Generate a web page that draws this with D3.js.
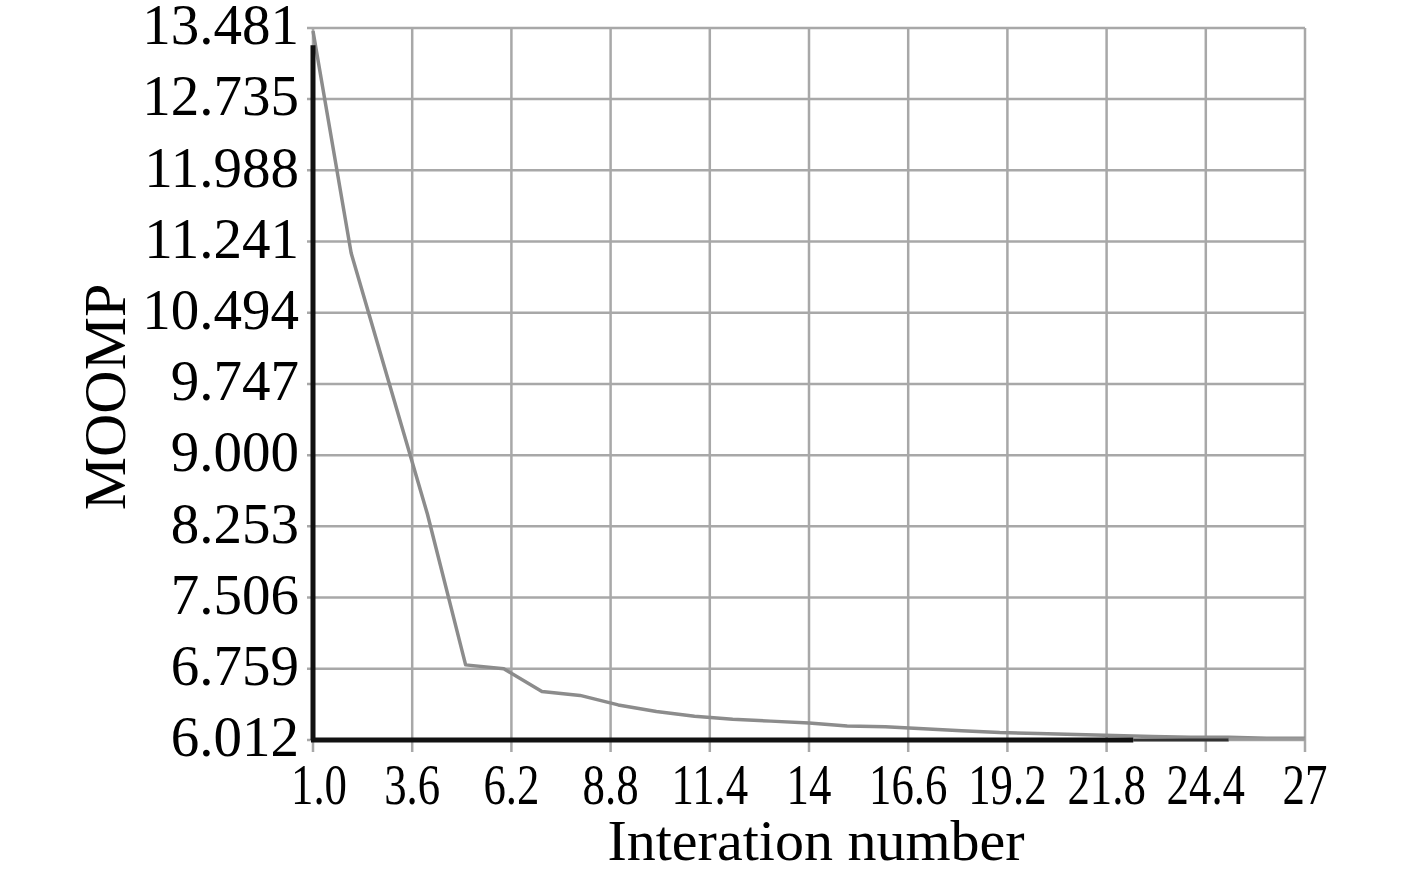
<!DOCTYPE html>
<html>
<head>
<meta charset="utf-8">
<script src="https://cdn.jsdelivr.net/npm/d3@7"></script>
<style>
  body { margin: 0; background: #fff; }
  text { font-family: "Liberation Serif", "Times New Roman", serif; fill: #000; }
</style>
</head>
<body>
<div class="chart"></div>
<script>
var svgWidth = 1417;
var svgHeight = 870;

var margin = { top: 28, right: 112, bottom: 130, left: 313 };
var width = svgWidth - margin.left - margin.right;
var height = svgHeight - margin.top - margin.bottom;

// tick labels as printed
var xTicks = [1.0, 3.6, 6.2, 8.8, 11.4, 14, 16.6, 19.2, 21.8, 24.4, 27];
var xTickLabels = ["1.0", "3.6", "6.2", "8.8", "11.4", "14", "16.6", "19.2", "21.8", "24.4", "27"];
var yTicks = [6.012, 6.759, 7.506, 8.253, 9.000, 9.747, 10.494, 11.241, 11.988, 12.735, 13.481];
var yTickLabels = ["6.012", "6.759", "7.506", "8.253", "9.000", "9.747", "10.494", "11.241", "11.988", "12.735", "13.481"];

// MOOMP per iteration
var iterations = [1, 2, 3, 4, 5, 6, 7, 8, 9, 10, 11, 12, 13, 14, 15, 16, 17, 18, 19, 20, 21, 22, 23, 24, 25, 26, 27];
var moomp = [13.45, 11.12, 9.75, 8.38, 6.80, 6.76, 6.52, 6.48, 6.38, 6.31, 6.26, 6.23, 6.21, 6.19, 6.16,
  6.15, 6.13, 6.11, 6.09, 6.08, 6.07, 6.06, 6.05, 6.04, 6.04, 6.03, 6.03];

var svg = d3.select(".chart")
  .append("svg")
  .attr("width", svgWidth)
  .attr("height", svgHeight);

var chartGroup = svg.append("g")
  .attr("transform", `translate(${margin.left}, ${margin.top})`);

var xLinearScale = d3.scaleLinear().domain([1, 27]).range([0, width]);
var yLinearScale = d3.scaleLinear().domain([6.012, 13.481]).range([height, 0]);

// vertical grid
chartGroup.append("g")
  .selectAll("line")
  .data(xTicks)
  .enter()
  .append("line")
  .attr("x1", d => xLinearScale(d))
  .attr("x2", d => xLinearScale(d))
  .attr("y1", 0)
  .attr("y2", height + 12)
  .attr("stroke", "#a8a8a8")
  .attr("stroke-width", 2.5);

// horizontal grid
chartGroup.append("g")
  .selectAll("line")
  .data(yTicks)
  .enter()
  .append("line")
  .attr("x1", -6)
  .attr("x2", width)
  .attr("y1", d => yLinearScale(d))
  .attr("y2", d => yLinearScale(d))
  .attr("stroke", "#a8a8a8")
  .attr("stroke-width", 2.5);

// y tick labels
chartGroup.append("g")
  .selectAll("text")
  .data(yTicks)
  .enter()
  .append("text")
  .attr("x", -14)
  .attr("y", d => yLinearScale(d) - 2)
  .attr("dy", "0.32em")
  .attr("text-anchor", "end")
  .attr("font-size", "57px")
  .text((d, i) => yTickLabels[i]);

// x tick labels (printed with narrow glyphs)
var xLabels = chartGroup.append("g")
  .selectAll("text")
  .data(xTicks)
  .enter()
  .append("text")
  .attr("x", (d, i) => xLinearScale(d) + (i === 0 ? 6 : 0))
  .attr("y", height + 64)
  .attr("text-anchor", "middle")
  .attr("font-size", "56px")
  .text((d, i) => xTickLabels[i]);

xLabels.each(function() {
  var len = this.getComputedTextLength();
  d3.select(this)
    .attr("textLength", len * 0.8)
    .attr("lengthAdjust", "spacingAndGlyphs");
});

// the curve
var line = d3.line()
  .x((d, i) => xLinearScale(iterations[i]))
  .y(d => yLinearScale(d));

chartGroup.append("path")
  .datum(moomp)
  .attr("d", line)
  .attr("fill", "none")
  .attr("stroke", "#8c8c8c")
  .attr("stroke-width", 3.5)
  .attr("stroke-linejoin", "round");

// axes (black, fading out near the right end)
chartGroup.append("line")
  .attr("x1", 0).attr("x2", 0)
  .attr("y1", yLinearScale(13.3)).attr("y2", height)
  .attr("stroke", "#111")
  .attr("stroke-width", 5);

chartGroup.append("line")
  .attr("x1", -2).attr("x2", xLinearScale(22.5))
  .attr("y1", height).attr("y2", height)
  .attr("stroke", "#111")
  .attr("stroke-width", 5);

chartGroup.append("line")
  .attr("x1", xLinearScale(22.5)).attr("x2", xLinearScale(25))
  .attr("y1", height).attr("y2", height)
  .attr("stroke", "#333")
  .attr("stroke-width", 3);

chartGroup.append("line")
  .attr("x1", xLinearScale(25)).attr("x2", width)
  .attr("y1", height - 1).attr("y2", height - 1)
  .attr("stroke", "#999")
  .attr("stroke-width", 3);

// axis titles
chartGroup.append("text")
  .attr("x", 816 - margin.left)
  .attr("y", height + 120)
  .attr("text-anchor", "middle")
  .attr("font-size", "58px")
  .text("Interation number");

chartGroup.append("text")
  .attr("transform", "rotate(-90)")
  .attr("x", -(397 - margin.top))
  .attr("y", -188)
  .attr("text-anchor", "middle")
  .attr("font-size", "60px")
  .text("MOOMP");
</script>
</body>
</html>
